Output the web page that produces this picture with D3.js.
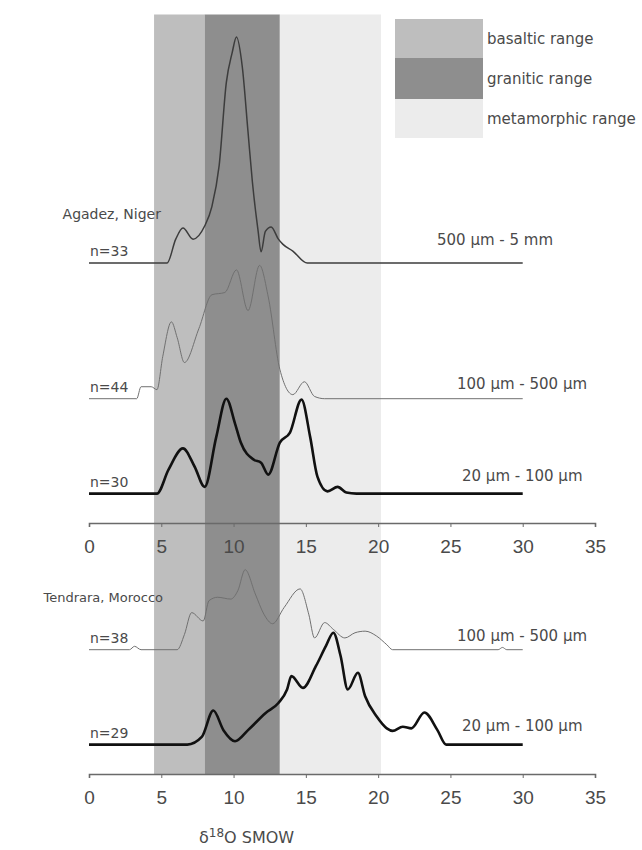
<!DOCTYPE html>
<html>
<head>
<meta charset="utf-8">
<script src="https://cdn.jsdelivr.net/npm/d3@7"></script>
<style>
  body { margin: 0; background: #fff; }
  text { font-family: "DejaVu Sans", Verdana, sans-serif; fill: #4a4a4a; }
</style>
</head>
<body>
<script>
// shaded ranges (delta 18O, permil)
const rangeNames = ["basaltic range", "granitic range", "metamorphic range"];
const rangeFrom = [4.5, 8.0, 13.2];
const rangeTo = [8.0, 13.2, 20.2];

const xTicks = [0, 5, 10, 15, 20, 25, 30, 35];

// probability curves: [delta18O, relative frequency]
const agadezCoarse = [
  [0, 0], [5.4, 0], [6.0, 10.6], [6.5, 15.5], [7.2, 10.6], [8.0, 16.4], [8.5, 25],
  [9.0, 43], [9.5, 80], [9.9, 93], [10.2, 100], [10.6, 87], [11.0, 58], [11.3, 36],
  [11.7, 14], [11.9, 5], [12.2, 14], [12.6, 16], [13.1, 10.6], [13.4, 8.4],
  [14.1, 5.3], [15.1, 0], [30, 0]
];
const agadezMedium = [
  [0, 0], [3.3, 0], [3.6, 5.3], [4.3, 5.3], [4.7, 4], [5.1, 18.6], [5.7, 34],
  [6.1, 27], [6.6, 16], [7.6, 31], [8.5, 46], [9.4, 47], [10.2, 57], [11.0, 39],
  [11.8, 59], [12.4, 45], [13.2, 13], [14.1, 1.8], [14.9, 7.5], [15.6, 1],
  [16.3, 0], [30, 0]
];
const agadezFine = [
  [0, 0], [4.7, 0], [5.5, 10.6], [6.5, 20], [7.3, 12], [8.0, 3], [8.8, 25],
  [9.5, 42], [10.1, 31], [10.5, 22.6], [11.4, 15], [11.9, 13.7], [12.4, 8.4],
  [13.2, 22.6], [13.9, 27], [14.7, 41.6], [15.3, 25], [15.8, 7.5], [16.5, 1],
  [17.2, 3], [17.8, 0.5], [18.5, 0], [30, 0]
];
const tendraraMedium = [
  [0, 0], [2.8, 0], [3.15, 1.5], [3.6, 0], [6.1, 0], [6.6, 6.7], [7.1, 16.4],
  [7.9, 12.7], [8.3, 21.7], [8.9, 23.2], [9.8, 22.4], [10.3, 26.2], [10.8, 35.4],
  [11.5, 24.7], [12.1, 15.7], [12.7, 11.5], [13.5, 18.7], [14.6, 26.9],
  [15.2, 15.7], [15.6, 5.2], [16.3, 12], [16.9, 9], [17.7, 5.2], [18.4, 7.5],
  [19.1, 8.2], [19.9, 6], [20.6, 2.2], [21.0, 0], [28.3, 0], [28.6, 1],
  [28.9, 0], [30, 0]
];
const tendraraFine = [
  [0, 0], [6.8, 0], [7.8, 3.4], [8.6, 15.1], [9.3, 6.4], [10.1, 1.5], [11.0, 6.4],
  [12.2, 13.9], [13.1, 18.4], [13.7, 24.4], [14.0, 30.3], [14.8, 25.1],
  [15.7, 34.8], [16.4, 43.8], [16.9, 49.5], [17.4, 39.3], [17.9, 24.4],
  [18.6, 31.8], [19.1, 21.4], [19.9, 12.4], [20.6, 7.2], [21.0, 6.1],
  [21.7, 7.9], [22.3, 7.2], [23.2, 14.2], [24.1, 6.4], [24.7, 0], [30, 0]
];

const agadezSeries = [
  { n: "n=33", size: "500 \u00b5m - 5 mm", offset: 115, pts: agadezCoarse },
  { n: "n=44", size: "100 \u00b5m - 500 \u00b5m", offset: 55, pts: agadezMedium },
  { n: "n=30", size: "20 \u00b5m - 100 \u00b5m", offset: 13, pts: agadezFine },
];
const tendraraSeries = [
  { n: "n=38", size: "100 \u00b5m - 500 \u00b5m", offset: 55, pts: tendraraMedium },
  { n: "n=29", size: "20 \u00b5m - 100 \u00b5m", offset: 13, pts: tendraraFine },
];

const width = 642, height = 850;
const rangeColors = ["#bebebe", "#8e8e8e", "#ececec"];
const lineStyles = [
  { stroke: "#3c3c3c", w: 1.5 },
  { stroke: "#707070", w: 1 },
  { stroke: "#111", w: 2.6 },
];
// where the size labels sit: [x, y shift above baseline]
const sizeLabelPos = {
  "n=33": [437, 23], "n=44": [457, 15], "n=30": [462, 18],
  "n=38": [457, 14], "n=29": [462, 19],
};

const x = d3.scaleLinear().domain([0, 35]).range([89, 595]);
const yTop = d3.scaleLinear().domain([0, 100]).range([523, 297]);
const yBot = d3.scaleLinear().domain([0, 100]).range([774, 548]);

const svg = d3.select("body").append("svg")
  .attr("width", width)
  .attr("height", height);

// background ranges
svg.append("g")
  .selectAll("rect")
  .data(rangeFrom)
  .join("rect")
  .attr("x", (d) => x(d))
  .attr("width", (d, i) => x(rangeTo[i]) - x(d))
  .attr("y", yTop(225))
  .attr("height", yBot(0) - yTop(225))
  .attr("fill", (d, i) => rangeColors[i]);

// legend
const legend = svg.append("g").attr("transform", "translate(395,19)");
const legendRows = [39, 41, 39];
let ly = 0;
rangeNames.forEach((name, i) => {
  legend.append("rect")
    .attr("x", 0).attr("y", ly)
    .attr("width", 88).attr("height", legendRows[i])
    .attr("fill", rangeColors[i]);
  legend.append("text")
    .attr("x", 92).attr("y", ly + legendRows[i] / 2)
    .attr("dy", "0.35em")
    .style("font-size", "15px")
    .text(name);
  ly += legendRows[i];
});

function drawPanel(series, y, axisY) {
  const g = svg.append("g");
  const line = d3.line()
    .x((d) => x(d[0]))
    .curve(d3.curveMonotoneX);

  series.forEach((s, i) => {
    const st = lineStyles[series.length === 3 ? i : i + 1];
    g.append("path")
      .datum(s.pts)
      .attr("fill", "none")
      .attr("stroke", st.stroke)
      .attr("stroke-width", st.w)
      .attr("stroke-linejoin", "round")
      .attr("d", line.y((d) => y(d[1] + s.offset)));

    g.append("text")
      .attr("x", 90)
      .attr("y", y(s.offset) - 12)
      .attr("dy", "0.35em")
      .style("font-size", "14px")
      .text(s.n);

    const p = sizeLabelPos[s.n];
    g.append("text")
      .attr("x", p[0])
      .attr("y", y(s.offset) - p[1])
      .attr("dy", "0.35em")
      .style("font-size", "15px")
      .text(s.size);
  });

  const axis = d3.axisBottom(x)
    .tickValues(xTicks)
    .tickSize(4)
    .tickPadding(13)
    .tickFormat(d3.format("d"));
  const ax = g.append("g")
    .attr("transform", "translate(0," + axisY + ")")
    .call(axis);
  ax.select(".domain").attr("stroke", "#6a6a6a").attr("stroke-width", 1.6);
  ax.selectAll(".tick line").attr("stroke", "#6a6a6a");
  ax.selectAll(".tick text")
    .attr("fill", "#666")
    .style("font-size", "19px")
    .style("font-family", "Liberation Sans, Arial, sans-serif");
}

drawPanel(agadezSeries, yTop, yTop(0));
drawPanel(tendraraSeries, yBot, yBot(0));

// locality labels
svg.append("text")
  .attr("x", 161).attr("y", 214)
  .attr("dy", "0.35em")
  .attr("text-anchor", "end")
  .style("font-size", "14px")
  .text("Agadez, Niger");
svg.append("text")
  .attr("x", 163).attr("y", 597)
  .attr("dy", "0.35em")
  .attr("text-anchor", "end")
  .style("font-size", "13px")
  .text("Tendrara, Morocco");

// axis title
const title = svg.append("text")
  .attr("x", 199).attr("y", 843)
  .style("font-size", "16px");
title.append("tspan").text("\u03b4");
title.append("tspan").attr("dy", "-6").style("font-size", "12px").text("18");
title.append("tspan").attr("dy", "6").text("O SMOW");
</script>
</body>
</html>
